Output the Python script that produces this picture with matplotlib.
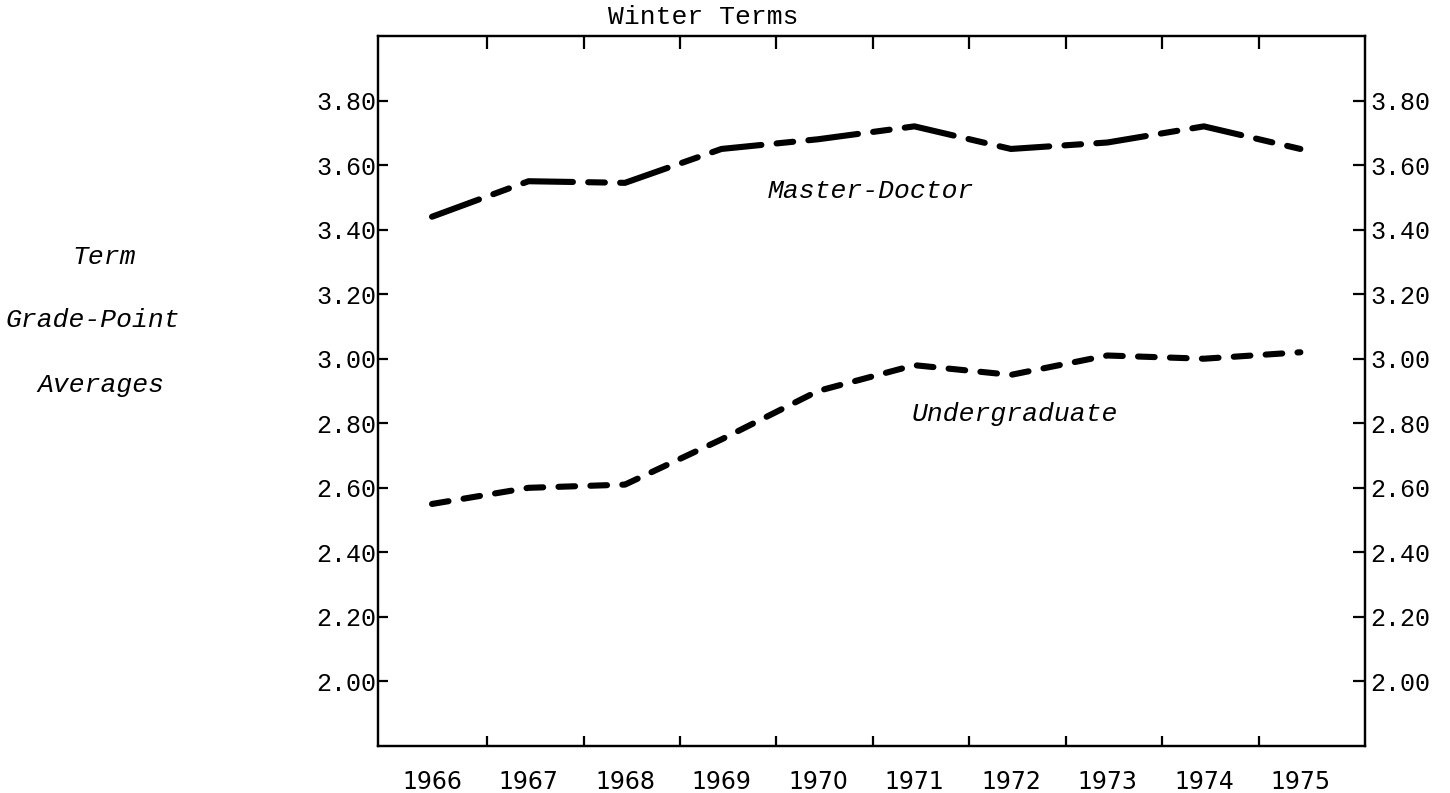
import matplotlib
matplotlib.use("Agg")
import matplotlib.pyplot as plt
import numpy as np

plt.rcParams['lines.scale_dashes'] = False

years = [1966, 1967, 1968, 1969, 1970, 1971, 1972, 1973, 1974, 1975]
master_doctor = [3.44, 3.55, 3.545, 3.65, 3.68, 3.72, 3.65, 3.67, 3.72, 3.65]
undergraduate = [2.55, 2.60, 2.61, 2.75, 2.90, 2.98, 2.95, 3.01, 3.00, 3.02]
y_ticks = [2.00, 2.20, 2.40, 2.60, 2.80, 3.00, 3.20, 3.40, 3.60, 3.80]
y_tick_labels = ["2.00", "2.20", "2.40", "2.60", "2.80", "3.00", "3.20", "3.40", "3.60", "3.80"]
year_labels = [str(y) for y in years]
divider_ticks = [y + 0.57 for y in years[:-1]]

MONO = "Liberation Mono"

fig = plt.figure(figsize=(14.5, 7.93), dpi=100)
ax = fig.add_axes([378 / 1450, 1 - 746 / 793, (1365 - 378) / 1450, (746 - 36) / 793])

ax.plot(years, master_doctor, color="black", lw=4.4, dashes=(36, 11, 12, 11),
        dash_capstyle="round", solid_capstyle="round")
ax.plot(years, undergraduate, color="black", lw=4.4, dashes=(12, 11),
        dash_capstyle="round", solid_capstyle="round")

ax.set_xlim(1965.44, 1975.67)
ax.set_ylim(1.80, 4.0)

for s in ax.spines.values():
    s.set_linewidth(1.6)

# x axis: divider ticks (major, no labels), year labels (minor, no tick marks)
ax.set_xticks(divider_ticks)
ax.set_xticklabels([])
ax.set_xticks(years, minor=True)
ax.set_xticklabels(year_labels, minor=True, fontfamily="DejaVu Sans", fontsize=17)
ax.tick_params(axis="x", which="major", direction="in", length=7, width=1.6,
               top=True, bottom=True)
ax.tick_params(axis="x", which="minor", length=0, pad=17)
for t in ax.xaxis.get_major_ticks():
    t.tick2line.set_markersize(9.5)

# left y axis
ax.set_yticks(y_ticks)
ax.set_yticklabels(y_tick_labels, fontfamily=MONO, fontsize=18)
ax.tick_params(axis="y", which="major", direction="in", length=7, width=1.6,
               left=True, right=False, pad=1)

# right y axis
ax2 = ax.twinx()
ax2.set_ylim(ax.get_ylim())
ax2.set_yticks(y_ticks)
ax2.set_yticklabels(y_tick_labels, fontfamily=MONO, fontsize=18)
ax2.tick_params(axis="y", which="major", direction="in", length=8.5, width=1.6,
                right=True, left=False, pad=4)
for s in ax2.spines.values():
    s.set_linewidth(1.6)

# series labels
ax.text(1970.55, 3.52, "Master-Doctor", fontfamily=MONO, fontstyle="italic",
        fontsize=19, ha="center", va="center")
ax.text(1972.04, 2.83, "Undergraduate", fontfamily=MONO, fontstyle="italic",
        fontsize=19, ha="center", va="center")

# title
fig.text(703 / 1450, 1 - 17 / 793, "Winter Terms", fontfamily=MONO, fontsize=19,
         ha="center", va="center")

# y-axis caption
fig.text(104 / 1450, 1 - 257 / 793, "Term", fontfamily=MONO, fontstyle="italic",
         fontsize=19, ha="center", va="center")
fig.text(93 / 1450, 1 - 320 / 793, "Grade-Point", fontfamily=MONO, fontstyle="italic",
         fontsize=19, ha="center", va="center")
fig.text(101 / 1450, 1 - 385 / 793, "Averages", fontfamily=MONO, fontstyle="italic",
         fontsize=19, ha="center", va="center")

fig.savefig("out.png", dpi=100)
